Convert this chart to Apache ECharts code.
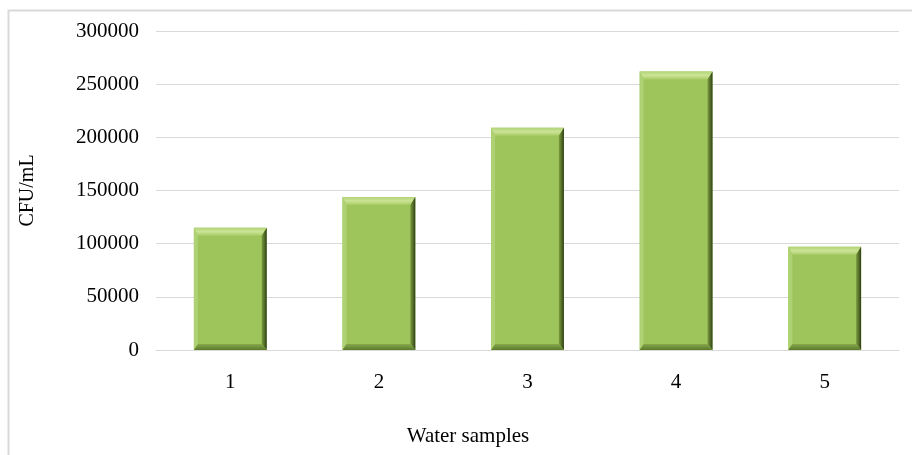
<!DOCTYPE html>
<html>
<head>
<meta charset="utf-8">
<script src="https://cdn.jsdelivr.net/npm/echarts@6/dist/echarts.min.js"></script>
<style>
  html, body { margin: 0; padding: 0; background: #fff; }
  #chart { width: 912px; height: 455px; }
</style>
</head>
<body>
<div id="chart"></div>
<script>
// Bacterial counts per water sample
const categories = ['1', '2', '3', '4', '5'];
const cfuValues = [115000, 144000, 209000, 262000, 97000];
const yTicks = { min: 0, max: 300000, interval: 50000 };
const xTitle = 'Water samples';
const yTitle = 'CFU/mL';

const FONT = '"Liberation Serif", "Times New Roman", serif';
const FS = 21;

// Bevelled bar: flat face plus four sloped edges
function renderBevelBar(params, api) {
  const idx = api.value(0);
  const val = api.value(1);
  const top = api.coord([idx, val]);
  const base = api.coord([idx, 0]);
  const bandW = api.size([1, 0])[0];
  const w = bandW * 0.49;
  const x0 = top[0] - w / 2, x1 = top[0] + w / 2;
  const y0 = top[1], y1 = base[1];
  const bt = 8, bb = 6, bl = 4, br = 5;
  const face = '#9EC55B';
  return {
    type: 'group',
    children: [
      { type: 'rect', shape: { x: x0, y: y0, width: w, height: y1 - y0 }, style: { fill: face } },
      { type: 'polygon', shape: { points: [[x0, y0], [x1, y0], [x1 - br, y0 + bt], [x0 + bl, y0 + bt]] },
        style: { fill: { type: 'linear', x: 0, y: 0, x2: 0, y2: 1, colorStops: [{ offset: 0, color: '#B2D475' }, { offset: 0.5, color: '#CBE498' }, { offset: 1, color: '#A8CC65' }] } } },
      { type: 'polygon', shape: { points: [[x0, y0], [x0 + bl, y0 + bt], [x0 + bl, y1 - bb], [x0, y1]] },
        style: { fill: '#AED173' } },
      { type: 'polygon', shape: { points: [[x1, y0], [x1, y1], [x1 - br, y1 - bb], [x1 - br, y0 + bt]] },
        style: { fill: { type: 'linear', x: 0, y: 0, x2: 1, y2: 0, colorStops: [{ offset: 0, color: '#7A9B40' }, { offset: 0.6, color: '#4F6826' }, { offset: 1, color: '#2E3D14' }] } } },
      { type: 'polygon', shape: { points: [[x0, y1], [x0 + bl, y1 - bb], [x1 - br, y1 - bb], [x1, y1]] },
        style: { fill: { type: 'linear', x: 0, y: 0, x2: 0, y2: 1, colorStops: [{ offset: 0, color: '#86A84A' }, { offset: 1, color: '#5C7A2C' }] } } }
    ]
  };
}

const chart = echarts.init(document.getElementById('chart'), null, { renderer: 'canvas' });
chart.setOption({
  backgroundColor: '#ffffff',
  animation: false,
  graphic: [
    {
      type: 'rect', left: 6, top: 8,
      shape: { width: 940, height: 480 },
      style: { fill: 'none', stroke: '#D9D9D9', lineWidth: 2 },
      silent: true
    },
    {
      type: 'text', x: 468, y: 436,
      style: { text: xTitle, fill: '#000', font: FS + 'px ' + FONT, align: 'center', verticalAlign: 'middle' },
      silent: true
    }
  ],
  grid: { left: 156, right: 13, top: 31, bottom: 105 },
  xAxis: {
    type: 'category',
    data: categories,
    axisLine: { show: true, lineStyle: { color: '#D9D9D9', width: 1 } },
    axisTick: { show: false },
    axisLabel: { color: '#000', fontFamily: FONT, fontSize: FS, margin: 22 }
  },
  yAxis: {
    type: 'value',
    min: yTicks.min, max: yTicks.max, interval: yTicks.interval,
    axisLine: { show: false },
    axisTick: { show: false },
    splitLine: { lineStyle: { color: '#D9D9D9', width: 1 } },
    axisLabel: { color: '#000', fontFamily: FONT, fontSize: FS, margin: 17, formatter: v => String(v) },
    name: yTitle,
    nameLocation: 'middle',
    nameGap: 118,
    nameRotate: 90,
    nameTextStyle: { color: '#000', fontFamily: FONT, fontSize: 20 }
  },
  series: [{
    type: 'custom',
    renderItem: renderBevelBar,
    data: cfuValues.map((v, i) => [i, v]),
    encode: { x: 0, y: 1 }
  }]
});
</script>
</body>
</html>
